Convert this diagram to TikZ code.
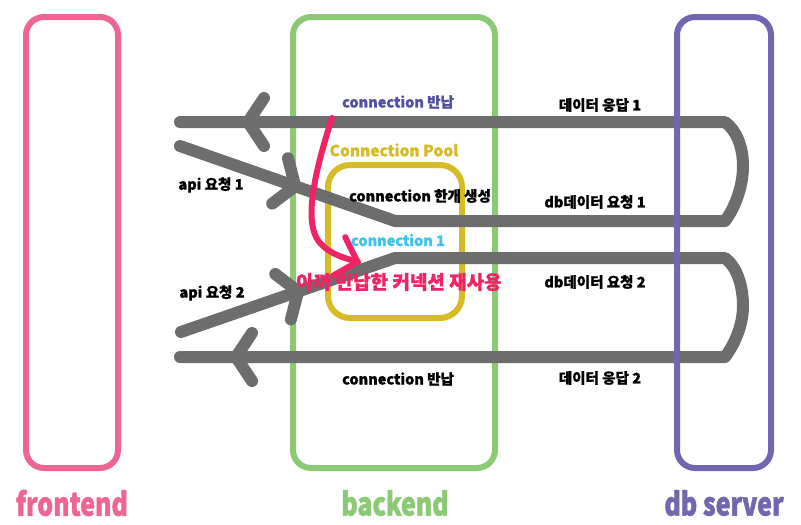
\documentclass[tikz,border=0pt]{standalone}
\usepackage{fontspec}
\setmainfont{Noto Sans CJK KR}[BoldFeatures={FakeBold=1.2}]
\newfontfamily\tierfont{Noto Sans CJK KR}[BoldFeatures={FakeBold=1.5},FakeStretch=0.78]
\usetikzlibrary{decorations.markings}

\definecolor{frontpink}{HTML}{EF6592}
\definecolor{backgreen}{HTML}{8CC974}
\definecolor{dbpurple}{HTML}{7366B0}
\definecolor{flowgray}{HTML}{6C6D6C}
\definecolor{poolyellow}{HTML}{D6BB26}
\definecolor{returnblue}{HTML}{5250A0}
\definecolor{conncyan}{HTML}{3CC3EC}
\definecolor{reusered}{HTML}{EE2464}

\begin{document}
\begin{tikzpicture}[x=1pt,y=-1pt,
    box/.style={draw=#1,line width=6pt,rounded corners=18pt,inner sep=0pt},
    flow/.style={draw=flowgray,line width=12pt,line cap=round,line join=round},
    reuse/.style={draw=reusered,line width=6pt,line cap=round,line join=round},
    chevron/.style={postaction={decorate,decoration={markings,
        mark=at position #1 with {\draw[flow] (-16,24) -- (0,0) -- (-16,-24);}}}},
    hook/.style={postaction={decorate,decoration={markings,
        mark=at position #1 with {\draw[reuse] (-19,20) -- (0,0) -- (-19,-20);}}}},
    txt/.style={text=#1,font=\bfseries\fontsize{14.5}{15}\selectfont,inner sep=0pt},
    txt/.default=black,
    tier/.style={text=#1,font=\tierfont\bfseries\fontsize{32}{32}\selectfont,inner sep=0pt}]
    \useasboundingbox (0,0) rectangle (801,525);

    % tiers
    \node[box=backgreen,minimum width=202,minimum height=451] (backend) at (394,242.5) {};
    \node[box=frontpink,minimum width=92,minimum height=451] (frontend) at (72,242.5) {};
    \node[box=poolyellow,minimum width=134,minimum height=153,rounded corners=22pt] (pool) at (395,241.5) {};

    % request / response loops
    \coordinate (in1)    at (180,146);
    \coordinate (mid1)   at (395,221);
    \coordinate (turn1)  at (725,221);
    \coordinate (bulge1) at (743,166);
    \coordinate (back1)  at (725,122);
    \coordinate (out1)   at (180,122);
    \coordinate (in2)    at (181,332);
    \coordinate (mid2)   at (395,258);
    \coordinate (turn2)  at (725,258);
    \coordinate (bulge2) at (743,306);
    \coordinate (back2)  at (725,357);
    \coordinate (out2)   at (180,357);
    \draw[flow,chevron=122pt,chevron=-68pt] (in1) -- (mid1) -- (turn1)
        .. controls (734,209) and (743,188) .. (bulge1)
        .. controls (743,146) and (736,130) .. (back1) -- (out1);
    \draw[flow,chevron=124pt,chevron=-56pt] (in2) -- (mid2) -- (turn2)
        .. controls (736,266) and (743,284) .. (bulge2)
        .. controls (743,326) and (734,345) .. (back2) -- (out2);

    \node[box=dbpurple,minimum width=94,minimum height=451] (db) at (724,242.5) {};

    % reused connection
    \coordinate (taken) at (332,118);
    \coordinate (given) at (358,262);
    \draw[reuse,hook=-0.5pt] (taken) .. controls (312,180) and (303,228) .. (322,245)
        .. controls (332,255) and (345,258) .. (given);

    % labels
    \node[txt=returnblue] (ret1) at (398,102) {connection 반납};
    \node[txt=poolyellow,font=\bfseries\fontsize{15.5}{16}\selectfont] (poolname) at (394,150) {Connection Pool};
    \node[txt] (create) at (420,196) {connection 한개 생성};
    \node[txt=conncyan] (conn) at (398,240) {connection 1};
    \node[txt=reusered,font=\bfseries\fontsize{19}{19}\selectfont] (reused) at (399,282) {아까 반납한 커넥션 재사용};
    \node[txt] (api1) at (211,185) {api 요청 1};
    \node[txt] (api2) at (212,293) {api 요청 2};
    \node[txt] (ret2) at (398,379) {connection 반납};
    \node[txt] (resp1) at (600,105) {데이터 응답 1};
    \node[txt] (query1) at (595,202) {db데이터 요청 1};
    \node[txt] (query2) at (595,282) {db데이터 요청 2};
    \node[txt] (resp2) at (600,378) {데이터 응답 2};

    \node[tier=frontpink] at (72,503) {frontend};
    \node[tier=backgreen] at (395,503) {backend};
    \node[tier=dbpurple] at (724,503) {db server};
\end{tikzpicture}
\end{document}
